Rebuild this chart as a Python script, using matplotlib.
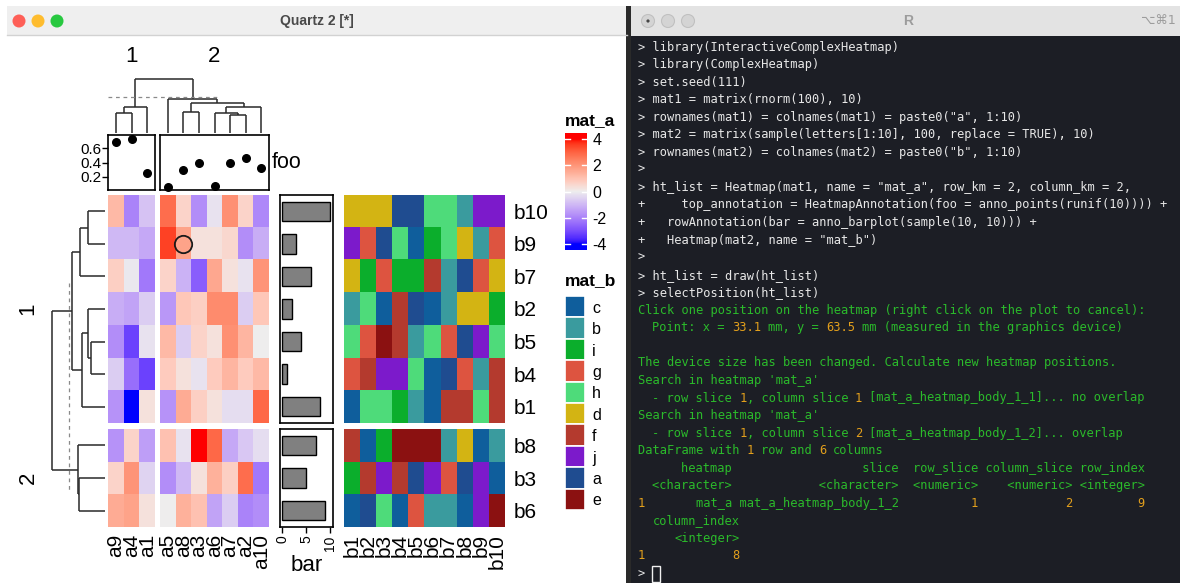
import numpy as np
import matplotlib
matplotlib.use("Agg")
import matplotlib.pyplot as plt
import matplotlib.colors as mcolors
from matplotlib.patches import Rectangle, Circle
from matplotlib.collections import LineCollection

plt.rcParams["axes.unicode_minus"] = False
plt.rcParams["font.family"] = ["Liberation Sans", "DejaVu Sans"]

W, H = 1180, 583

# ---------------- data ----------------
col_order = ["a9", "a4", "a1", "a5", "a8", "a3", "a6", "a7", "a2", "a10"]
col_slices = [3, 7]
row_order = ["b10", "b9", "b7", "b2", "b5", "b4", "b1", "b8", "b3", "b6"]
row_slices = [7, 3]
matb_cols = ["b1", "b2", "b3", "b4", "b5", "b6", "b7", "b8", "b9", "b10"]

# mat_a values, rows in row_order, columns in col_order
mat_a = np.array([
    [1.2, -2.0, -0.8, 2.8, 0.6, -1.8, -0.2, 2.1, 0.6, -1.9],
    [-1.0, -1.0, -1.3, 3.5, 1.7, 0.3, 0.3, 0.5, -1.8, -1.2],
    [0.7, -0.1, -2.2, 0.6, -1.1, -2.7, 1.6, 0.3, -0.2, 2.0],
    [-1.2, -1.4, -0.6, -1.6, 0.9, 0.7, 2.2, 2.2, -0.6, 0.9],
    [-1.8, -3.2, -0.2, 1.2, -0.6, 0.6, 0.3, 2.1, 1.3, 0.0],
    [-0.6, -2.4, -3.2, 0.8, 0.3, -0.2, 0.8, 1.3, 0.8, 1.2],
    [-1.7, -4.0, 0.3, -1.7, 1.5, 0.7, 0.3, -0.3, -0.3, 2.9],
    [-1.7, 0.6, -1.5, 1.0, -0.2, 4.0, 2.9, -1.3, -0.7, -0.3],
    [0.6, 2.0, -0.5, -1.8, -1.0, 0.3, 1.4, 0.7, 2.8, -2.2],
    [1.5, 1.7, 0.3, 0.0, 1.4, 1.0, -1.4, -0.6, -2.0, -1.8],
])

# mat_b letters, rows in row_order, columns b1..b10
mat_b = [
    "dddaahhbjj",
    "jgahcihdbg",
    "digiifbagd",
    "bhcfacbddi",
    "hgefbhgajh",
    "gfjjhcagbf",
    "chhibcffhf",
    "fcieeebdcb",
    "ifjfajgajc",
    "cahcgbbcje",
]
b_levels = ["c", "b", "i", "g", "h", "d", "f", "j", "a", "e"]
b_colors = ["#0f5e9c", "#3a9b9e", "#0bae2c", "#dd5440", "#4edb7a",
            "#d3b413", "#b43a2e", "#7c1acb", "#1f4c90", "#8b1111"]

foo = [0.68, 0.73, 0.25, 0.06, 0.30, 0.40, 0.07, 0.39, 0.46, 0.33]
bar = [10, 3, 6, 2, 4, 1, 8, 7, 5, 9]

# dendrograms: (merge height, left, right)
col_tree = (54, (26, (20, "a9", "a4"), "a1"),
            (34, "a5", (30, (21, "a8", "a3"),
                        (26, (20, "a6", (18, "a7", "a2")), "a10"))))
row_tree = (53, (33, (25, (17, "b10", "b9"), "b7"),
                 (23, (17, "b2", (14, "b5", "b4")), "b1")),
            (27, "b8", (26, "b3", "b6")))
cut_height = 36
picked = ("b9", "a8")

# terminal text
CMD, GRN, ORG = "#e8e8e8", "#2bbb2b", "#e3a01c"
term_lines = [
    [("> library(InteractiveComplexHeatmap)", CMD)],
    [("> library(ComplexHeatmap)", CMD)],
    [("> set.seed(111)", CMD)],
    [("> mat1 = matrix(rnorm(100), 10)", CMD)],
    [('> rownames(mat1) = colnames(mat1) = paste0("a", 1:10)', CMD)],
    [("> mat2 = matrix(sample(letters[1:10], 100, replace = TRUE), 10)", CMD)],
    [('> rownames(mat2) = colnames(mat2) = paste0("b", 1:10)', CMD)],
    [(">", CMD)],
    [('> ht_list = Heatmap(mat1, name = "mat_a", row_km = 2, column_km = 2,', CMD)],
    [("+     top_annotation = HeatmapAnnotation(foo = anno_points(runif(10)))) +", CMD)],
    [("+   rowAnnotation(bar = anno_barplot(sample(10, 10))) +", CMD)],
    [('+   Heatmap(mat2, name = "mat_b")', CMD)],
    [(">", CMD)],
    [("> ht_list = draw(ht_list)", CMD)],
    [("> selectPosition(ht_list)", CMD)],
    [("Click one position on the heatmap (right click on the plot to cancel):", GRN)],
    [("  Point: x = ", GRN), ("33.1", ORG), (" mm, y = ", GRN), ("63.5", ORG),
     (" mm (measured in the graphics device)", GRN)],
    [],
    [("The device size has been changed. Calculate new heatmap positions.", GRN)],
    [("Search in heatmap 'mat_a'", GRN)],
    [("  - row slice ", GRN), ("1", ORG), (", column slice ", GRN), ("1", ORG),
     (" [mat_a_heatmap_body_1_1]... no overlap", GRN)],
    [("Search in heatmap 'mat_a'", GRN)],
    [("  - row slice ", GRN), ("1", ORG), (", column slice ", GRN), ("2", ORG),
     (" [mat_a_heatmap_body_1_2]... overlap", GRN)],
    [("DataFrame with ", GRN), ("1", ORG), (" row and ", GRN), ("6", ORG), (" columns", GRN)],
    [("      heatmap" + " " * 18 + "slice  row_slice column_slice row_index", GRN)],
    [("  <character>" + " " * 12 + "<character>  <numeric>    <numeric> <integer>", GRN)],
    [("1", ORG), ("       mat_a mat_a_heatmap_body_1_2" + " " * 10, GRN), ("1", ORG),
     (" " * 12, GRN), ("2", ORG), (" " * 9, GRN), ("9", ORG)],
    [("  column_index", GRN)],
    [("     <integer>", GRN)],
    [("1", ORG), (" " * 12, GRN), ("8", ORG)],
    [("> ", CMD)],
]


# ---------------- colours (LAB interpolation like colorRamp2) ----------------
M_XYZ = np.array([[0.4124, 0.3576, 0.1805],
                  [0.2126, 0.7152, 0.0722],
                  [0.0193, 0.1192, 0.9505]])
WHITE = np.array([0.95047, 1.0, 1.08883])


def to_lab(c):
    rgb = np.array(mcolors.to_rgb(c))
    lin = np.where(rgb <= 0.04045, rgb / 12.92, ((rgb + 0.055) / 1.055) ** 2.4)
    xyz = M_XYZ @ lin / WHITE
    f = np.where(xyz > 0.008856, np.cbrt(xyz), 7.787 * xyz + 16 / 116)
    return np.array([116 * f[1] - 16, 500 * (f[0] - f[1]), 200 * (f[1] - f[2])])


def from_lab(lab):
    fy = (lab[0] + 16) / 116
    f = np.array([fy + lab[1] / 500, fy, fy - lab[2] / 200])
    xyz = np.where(f ** 3 > 0.008856, f ** 3, (f - 16 / 116) / 7.787) * WHITE
    lin = np.clip(np.linalg.solve(M_XYZ, xyz), 0, 1)
    rgb = np.where(lin <= 0.0031308, 12.92 * lin, 1.055 * lin ** (1 / 2.4) - 0.055)
    return np.clip(rgb, 0, 1)


breaks = [-4, 0, 4]
labs = [to_lab(c) for c in ["blue", "#EEEEEE", "red"]]
ramp = []
for v in np.linspace(-4, 4, 256):
    k = 0 if v < 0 else 1
    t = (v - breaks[k]) / (breaks[k + 1] - breaks[k])
    ramp.append(from_lab(labs[k] * (1 - t) + labs[k + 1] * t))
cmap_a = mcolors.ListedColormap(ramp)
norm_a = mcolors.Normalize(-4, 4)
cmap_b = mcolors.ListedColormap(b_colors)

# ---------------- figure ----------------
fig = plt.figure(figsize=(W / 100, H / 100), dpi=100)
canvas = fig.add_axes([0, 0, 1, 1])
canvas.set_xlim(0, W)
canvas.set_ylim(H, 0)
canvas.axis("off")


def ax_at(x0, y0, x1, y1):
    a = fig.add_axes([x0 / W, (H - y1) / H, (x1 - x0) / W, (y1 - y0) / H])
    a.patch.set_alpha(0)
    return a


def clean(a):
    a.set_xticks([])
    a.set_yticks([])
    for s in a.spines.values():
        s.set_visible(False)


# window chrome
canvas.add_patch(Rectangle((7, 6), 620, 29, fc="#efefef", ec="none"))
canvas.plot([7, 627], [35, 35], color="#d2d2d2", lw=1)
for x, c in zip([19, 38, 57], ["#fe5f57", "#febc2e", "#28c840"]):
    canvas.add_patch(Circle((x, 21), 6.5, fc=c, ec="none"))
canvas.text(317, 21, "Quartz 2 [*]", ha="center", va="center", fontsize=10,
            fontweight="bold", color="#4a4a4a")

canvas.add_patch(Rectangle((626, 6), 6, H, fc="#2a2a2a", ec="none"))
canvas.add_patch(Rectangle((631, 6), W - 631, 30, fc="#e3e3e3", ec="none"))
canvas.add_patch(Rectangle((631, 36), W - 631, H - 36, fc="#1c1e25", ec="none"))
for x in [648, 668, 688]:
    canvas.add_patch(Circle((x, 21), 6.5, fc="#d4d4d4", ec="#c0c0c0", lw=0.8))
canvas.add_patch(Circle((648, 21), 1.6, fc="#444444", ec="none"))
canvas.text(908, 21, "R", ha="center", va="center", fontsize=10,
            fontweight="bold", color="#9c9c9c")
canvas.text(1176, 21, "⌥⌘1", ha="right", va="center", fontsize=9,
            color="#9c9c9c", family=["DejaVu Sans"])

# terminal text
x_org, y_org, dy, fs_t = 638, 47, 17.55, 8.65
cw = 0.6021 * fs_t * 100 / 72
for i, segs in enumerate(term_lines):
    col = 0
    for txt, colr in segs:
        lead = len(txt) - len(txt.lstrip(" "))
        if txt.strip():
            canvas.text(x_org + (col + lead) * cw, y_org + i * dy, txt.lstrip(" "),
                        ha="left", va="center", fontsize=fs_t, color=colr,
                        family=["DejaVu Sans Mono"])
        col += len(txt)
    if i == len(term_lines) - 1:
        canvas.add_patch(Rectangle((x_org + col * cw, y_org + i * dy - 8), cw, 16,
                                   fc="none", ec="#f0f0f0", lw=1))

# ---------------- heatmap layout ----------------
hm_x = [(108, 155), (160, 269)]
hm_y = [(195, 423), (429, 527)]
foo_y = (135, 190)
bar_x = (280, 333)
matb_x = (344, 505)
rb = np.cumsum([0] + row_slices)
cb = np.cumsum([0] + col_slices)

col_pos, row_pos = {}, {}
for j, (x0, x1) in enumerate(hm_x):
    for k, name in enumerate(col_order[cb[j]:cb[j + 1]]):
        col_pos[name] = x0 + (k + 0.5) * (x1 - x0) / col_slices[j]
for i, (y0, y1) in enumerate(hm_y):
    for k, name in enumerate(row_order[rb[i]:rb[i + 1]]):
        row_pos[name] = y0 + (k + 0.5) * (y1 - y0) / row_slices[i]

pr, pc = row_order.index(picked[0]), col_order.index(picked[1])

# mat_a body
for i, (y0, y1) in enumerate(hm_y):
    for j, (x0, x1) in enumerate(hm_x):
        ax = ax_at(x0, y0, x1, y1)
        ax.imshow(mat_a[rb[i]:rb[i + 1], cb[j]:cb[j + 1]], cmap=cmap_a, norm=norm_a,
                  aspect="auto", interpolation="nearest")
        clean(ax)
        if rb[i] <= pr < rb[i + 1] and cb[j] <= pc < cb[j + 1]:
            ax.plot(pc - cb[j], pr - rb[i], "o", mfc="none", mec="#1a1a1a",
                    ms=12.5, mew=1.3)
        if i == len(hm_y) - 1:
            ax.set_xticks(range(col_slices[j]))
            ax.set_xticklabels(col_order[cb[j]:cb[j + 1]], rotation=90, fontsize=15)
            ax.tick_params(length=0, pad=5)

# foo annotation
for j, (x0, x1) in enumerate(hm_x):
    ax = ax_at(x0, foo_y[0], x1, foo_y[1])
    n = col_slices[j]
    ax.scatter(range(n), foo[cb[j]:cb[j + 1]], s=30, color="black", clip_on=False,
               zorder=3)
    ax.set_xlim(-0.5, n - 0.5)
    ax.set_ylim(0.02, 0.78)
    ax.set_xticks([])
    for s in ax.spines.values():
        s.set_linewidth(1.2)
    if j == 0:
        ax.set_yticks([0.2, 0.4, 0.6])
        ax.set_yticklabels(["0.2", "0.4", "0.6"])
        ax.tick_params(axis="y", labelsize=11, length=4, width=1, pad=1)
    else:
        ax.set_yticks([])
        ax.text(1.025, 0.5, "foo", transform=ax.transAxes, ha="left", va="center",
                fontsize=15.5)

# bar annotation
for i, (y0, y1) in enumerate(hm_y):
    ax = ax_at(bar_x[0], y0, bar_x[1], y1)
    n = row_slices[i]
    ax.barh(range(n), bar[rb[i]:rb[i + 1]], height=0.6, color="#808080",
            edgecolor="black", lw=1)
    ax.set_ylim(n - 0.5, -0.5)
    ax.set_xlim(-0.42, 10.6)
    ax.set_yticks([])
    for s in ax.spines.values():
        s.set_linewidth(1.2)
    if i == len(hm_y) - 1:
        ax.set_xticks([0, 5, 10])
        ax.set_xticklabels(["0", "5", "10"], rotation=90)
        ax.tick_params(axis="x", labelsize=10, length=4, width=1, pad=2)
        ax.set_xlabel("bar", fontsize=16, labelpad=3)
    else:
        ax.set_xticks([])

# mat_b body
for i, (y0, y1) in enumerate(hm_y):
    ax = ax_at(matb_x[0], y0, matb_x[1], y1)
    idx = [[b_levels.index(ch) for ch in row] for row in mat_b[rb[i]:rb[i + 1]]]
    ax.imshow(idx, cmap=cmap_b, vmin=-0.5, vmax=len(b_levels) - 0.5,
              aspect="auto", interpolation="nearest")
    clean(ax)
    ax.yaxis.tick_right()
    ax.set_yticks(range(row_slices[i]))
    ax.set_yticklabels(row_order[rb[i]:rb[i + 1]], fontsize=15)
    ax.tick_params(axis="y", length=0, pad=6)
    if i == len(hm_y) - 1:
        ax.set_xticks(range(len(matb_cols)))
        ax.set_xticklabels(matb_cols, rotation=90, fontsize=15)
        ax.tick_params(axis="x", length=0, pad=5)

# dendrograms


def tree_lines(node, pos):
    if isinstance(node, str):
        return pos[node], 0.0, []
    h, left, right = node
    c1, h1, s1 = tree_lines(left, pos)
    c2, h2, s2 = tree_lines(right, pos)
    segs = s1 + s2 + [[(c1, h1), (c1, h)], [(c2, h2), (c2, h)], [(c1, h), (c2, h)]]
    return (c1 + c2) / 2, h, segs


col_base, row_base = 133, 105
_, _, segs = tree_lines(col_tree, col_pos)
canvas.add_collection(LineCollection(
    [[(c, col_base - h) for c, h in s] for s in segs], colors="#2a2a2a", lw=1.1))
_, _, segs = tree_lines(row_tree, row_pos)
canvas.add_collection(LineCollection(
    [[(row_base - h, c) for c, h in s] for s in segs], colors="#2a2a2a", lw=1.1))
canvas.plot([108, 218], [col_base - cut_height] * 2, color="#8a8a8a", lw=0.9,
            ls=(0, (3, 3)))
canvas.plot([row_base - cut_height] * 2, [283, 492], color="#8a8a8a", lw=0.9,
            ls=(0, (3, 3)))

# slice titles
for j, (x0, x1) in enumerate(hm_x):
    canvas.text((x0 + x1) / 2, 57, str(j + 1), ha="center", va="center", fontsize=16)
for i, (y0, y1) in enumerate(hm_y):
    canvas.text(28, (y0 + y1) / 2, str(i + 1), ha="center", va="center",
                fontsize=16, rotation=90)

# legends
ax = ax_at(565, 133, 587, 250)
grad = np.linspace(4.45, -4.45, 300)[:, None]
ax.imshow(grad, cmap=cmap_a, norm=norm_a, aspect="auto", extent=[0, 1, -4.45, 4.45])
ticks = [-4, -2, 0, 2, 4]
for t in ticks:
    ax.plot([0, 0.22], [t, t], color="white", lw=1)
    ax.plot([0.78, 1], [t, t], color="white", lw=1)
clean(ax)
ax.yaxis.tick_right()
ax.set_yticks(ticks)
ax.set_yticklabels([str(t) for t in ticks])
ax.tick_params(axis="y", length=0, pad=4, labelsize=11.5)
ax.set_ylim(-4.45, 4.45)
ax.set_title("mat_a", loc="left", fontweight="bold", fontsize=12.5, pad=6)

ax = ax_at(565, 296, 585, 510)
ax.barh(range(len(b_levels)), [1] * len(b_levels), height=1, color=b_colors,
        edgecolor="white", lw=1.2)
ax.set_xlim(0, 1)
ax.set_ylim(len(b_levels) - 0.5, -0.5)
clean(ax)
ax.yaxis.tick_right()
ax.set_yticks(range(len(b_levels)))
ax.set_yticklabels(b_levels)
ax.tick_params(axis="y", length=0, pad=5, labelsize=11.5)
ax.set_title("mat_b", loc="left", fontweight="bold", fontsize=12.5, pad=8)

fig.savefig("out.png", dpi=100)
